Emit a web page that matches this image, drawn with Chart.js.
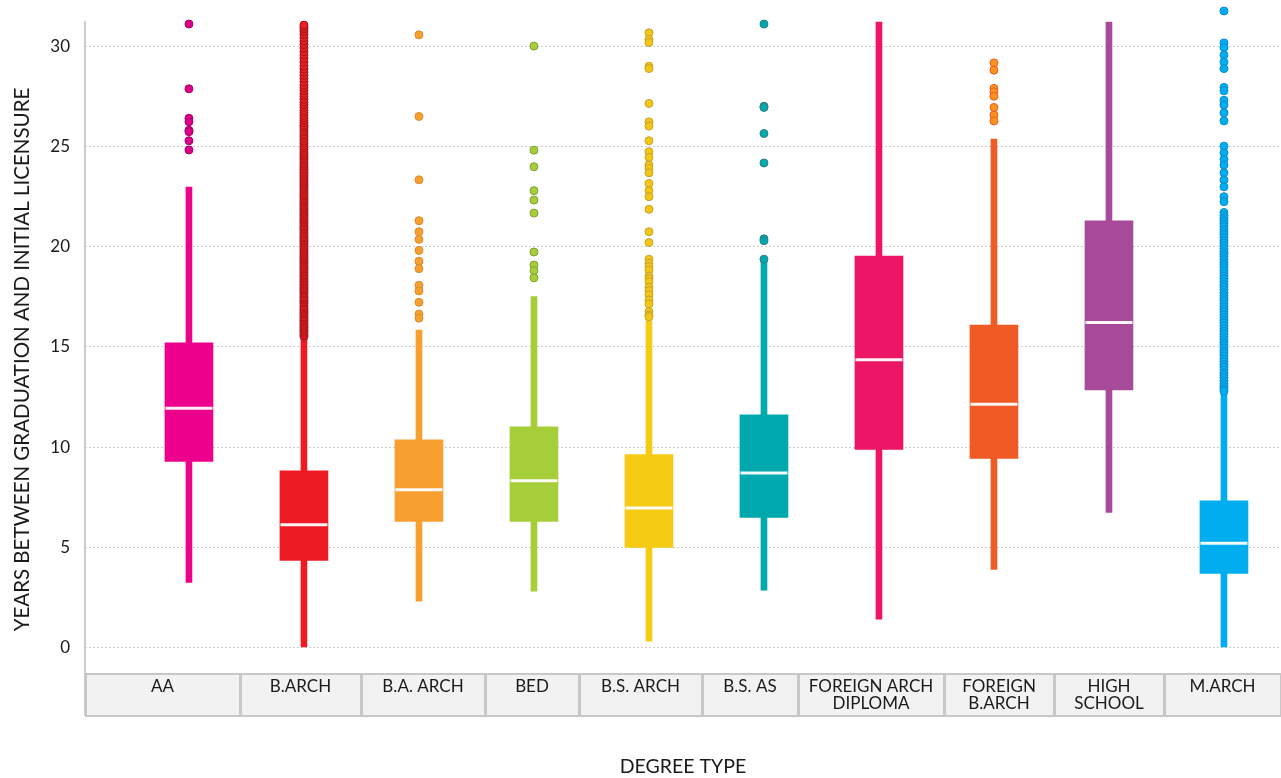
<!DOCTYPE html>
<html>
<head>
<meta charset="utf-8">
<script src="https://cdn.jsdelivr.net/npm/chart.js@4.4.1/dist/chart.umd.min.js"></script>
<style>
html,body{margin:0;padding:0;background:#fff;overflow:hidden;}
canvas{display:block;}
</style>
</head>
<body>
<canvas id="c" width="1281" height="778"></canvas>
<script>
// ---------------- DATA ----------------
const categories = ['AA', 'B.ARCH', 'B.A. ARCH', 'BED', 'B.S. ARCH', 'B.S. AS',
  ['FOREIGN ARCH', 'DIPLOMA'], ['FOREIGN', 'B.ARCH'], ['HIGH', 'SCHOOL'], 'M.ARCH'];

const whiskerLow  = [3.25, 0.0, 2.31, 2.81, 0.32, 2.86, 1.41, 3.9, 6.74, 0.0];
const q1          = [9.28, 4.35, 6.29, 6.29, 5.0, 6.49, 9.88, 9.43, 12.85, 3.7];
const median      = [11.94, 6.13, 7.87, 8.32, 6.96, 8.7, 14.35, 12.14, 16.21, 5.2];
const q3          = [15.2, 8.82, 10.36, 11.01, 9.62, 11.61, 19.53, 16.09, 21.28, 7.32];
const whiskerHigh = [22.97, 15.45, 15.84, 17.5, 16.3, 19.37, 31.2, 25.36, 31.2, 12.77];

const outliersAA = [31.1, 27.87, 26.4, 26.23, 25.8, 25.73, 25.28, 24.82];
const outliersBArch = [15.52, 15.6, 15.71, 15.8, 15.88, 15.97, 16.05, 16.14, 16.25, 16.33, 16.42, 16.5,
  16.61, 16.7, 16.78, 16.87, 16.96, 17.05, 17.17, 17.25, 17.33, 17.42, 17.5, 17.62, 17.71, 17.8, 17.88,
  17.96, 18.06, 18.15, 18.25, 18.33, 18.42, 18.52, 18.6, 18.7, 18.79, 18.88, 18.96, 19.05, 19.15, 19.24,
  19.33, 19.41, 19.5, 19.6, 19.7, 19.79, 19.88, 19.97, 20.06, 20.15, 20.25, 20.33, 20.42, 20.5, 20.6,
  20.7, 20.8, 20.88, 20.96, 21.05, 21.16, 21.25, 21.33, 21.42, 21.52, 21.6, 21.7, 21.8, 21.88, 21.97,
  22.06, 22.16, 22.25, 22.33, 22.43, 22.52, 22.6, 22.7, 22.8, 22.9, 23.0, 23.08, 23.17, 23.26, 23.35,
  23.45, 23.55, 23.65, 23.74, 23.84, 23.93, 24.02, 24.12, 24.22, 24.33, 24.42, 24.52, 24.62, 24.72,
  24.83, 24.93, 25.03, 25.15, 25.27, 25.38, 25.5, 25.6, 25.72, 25.83, 25.95, 26.05, 26.18, 26.3, 26.42,
  26.55, 26.68, 26.8, 26.95, 27.08, 27.2, 27.35, 27.5, 27.62, 27.78, 27.92, 28.05, 28.22, 28.38, 28.55,
  28.7, 28.85, 29.0, 29.2, 29.38, 29.55, 29.72, 29.9, 30.08, 30.25, 30.42, 30.58, 30.72, 30.85, 30.95, 31.05];
const outliersBAArch = [30.56, 26.49, 23.33, 21.29, 20.74, 20.36, 19.81, 19.27, 18.9, 18.07, 17.79, 17.22, 16.63, 16.43];
const outliersBed = [30.0, 24.81, 23.98, 22.79, 22.32, 21.67, 19.73, 19.08, 18.8, 18.44];
const outliersBSArch = [30.66, 30.33, 30.18, 29.0, 28.88, 27.14, 26.22, 26.01, 25.28, 24.73, 24.45, 24.07,
  23.9, 23.68, 23.15, 22.79, 22.49, 21.86, 20.74, 20.2, 19.37, 19.17, 19.0, 18.83, 18.53, 18.4, 18.25,
  17.97, 17.8, 17.6, 17.34, 17.14, 16.76, 16.59, 16.5];
const outliersBSAs = [31.1, 27.0, 26.94, 25.64, 24.17, 20.39, 20.29, 19.37];
const outliersForeignDiploma = [];
const outliersForeignBArch = [29.16, 28.8, 27.89, 27.72, 27.5, 26.94, 26.56, 26.27];
const outliersHighSchool = [];
const outliersMArch = [31.75, 30.16, 29.93, 29.55, 29.21, 28.88, 27.94, 27.77, 27.3, 27.06, 26.67, 26.27,
  25.01, 24.68, 24.35, 24.07, 23.68, 23.32, 22.98, 22.49, 22.24, 21.7, 21.55, 21.4, 21.28, 21.15, 21.0,
  20.85, 20.72, 20.6, 20.45, 20.3, 20.18, 20.05, 19.9, 19.75, 19.62, 19.5, 19.35, 19.2, 19.08, 18.95,
  18.8, 18.66, 18.52, 18.4, 18.25, 18.1, 17.98, 17.85, 17.7, 17.56, 17.42, 17.3, 17.15, 17.0, 16.88,
  16.75, 16.6, 16.46, 16.33, 16.2, 16.05, 15.9, 15.78, 15.65, 15.5, 15.36, 15.22, 15.1, 14.95, 14.8,
  14.68, 14.55, 14.4, 14.26, 14.12, 14.0, 13.85, 13.7, 13.58, 13.45, 13.3, 13.16, 13.02, 12.9, 12.8];

const outliers = [outliersAA, outliersBArch, outliersBAArch, outliersBed, outliersBSArch, outliersBSAs,
  outliersForeignDiploma, outliersForeignBArch, outliersHighSchool, outliersMArch];

const yTicks = [0, 5, 10, 15, 20, 25, 30];
const yTitle = 'YEARS BETWEEN GRADUATION AND INITIAL LICENSURE';
const xTitle = 'DEGREE TYPE';

// ---------------- STYLES ----------------
const boxColors = ['#EC008C', '#ED1C24', '#F7A030', '#A6CE39', '#F5CB14', '#00A9AD', '#ED1566', '#F05A24', '#A84A9A', '#00AEEF'];
const pointFill = ['#DC0088', '#ED1C24', '#F7A030', '#A6CE39', '#F3C614', '#00A9AD', '#ED1566', '#F7941D', '#A84A9A', '#00AEEF'];
const pointBorder = ['#A8006A', '#A3161B', '#D68A30', '#7EA032', '#C4A22E', '#2E7F87', '#B01050', '#F05A24', '#7D3573', '#0A8CCF'];
const tableColWidths = [155, 121, 124, 94, 123, 96, 146, 110, 110, 117]; // layout of label table
const axisLineTop = 31.25;   // where the left axis line starts (axis units)
const FONT = 'Lato, "Open Sans", sans-serif';
const TEXT = '#1a1a1a';

// ---------------- DATASETS ----------------
const idx = categories.map((_, i) => i);
const datasets = [];
datasets.push({
  type: 'bar', label: 'whiskers', order: 4, grouped: false, barThickness: 6,
  data: idx.map(i => ({x: i, y: [whiskerLow[i], whiskerHigh[i]]})),
  backgroundColor: boxColors, borderWidth: 0
});
datasets.push({
  type: 'bar', label: 'boxes', order: 3, grouped: false, barThickness: 48,
  data: idx.map(i => ({x: i, y: [q1[i], q3[i]]})),
  backgroundColor: boxColors, borderWidth: 0
});
datasets.push({
  type: 'scatter', label: 'median', order: 2,
  data: idx.map(i => ({x: i, y: median[i]})),
  pointStyle: 'line', pointRadius: 23.5, pointBorderWidth: 3,
  pointBorderColor: 'rgba(255,255,255,0.95)', pointBackgroundColor: '#fff'
});
idx.forEach(i => {
  datasets.push({
    type: 'scatter', label: 'outliers ' + i, order: 1, clip: false,
    data: outliers[i].map(v => ({x: i, y: v})),
    pointRadius: 4, pointBorderWidth: 1,
    pointBackgroundColor: pointFill[i], pointBorderColor: pointBorder[i]
  });
});

// ---------------- TABLE / AXIS PLUGIN ----------------
const tablePlugin = {
  id: 'labelTable',
  beforeDatasetsDraw(chart) {
    const {ctx, chartArea, scales} = chart;
    const top = Math.round(chartArea.bottom) + 1, h = 42;
    ctx.save();
    ctx.strokeStyle = '#cccccc';
    ctx.lineWidth = 2;
    ctx.beginPath();
    ctx.moveTo(chartArea.left, scales.y.getPixelForValue(axisLineTop));
    ctx.lineTo(chartArea.left, top + h);
    ctx.stroke();
    ctx.restore();
  },
  afterDraw(chart) {
    const {ctx, chartArea, scales} = chart;
    const left = chartArea.left, right = chartArea.right;
    const top = Math.round(chartArea.bottom) + 1, h = 42;
    const total = tableColWidths.reduce((a, b) => a + b, 0);
    const k = (right - left) / total;
    ctx.save();
    ctx.fillStyle = '#f2f2f2';
    ctx.fillRect(left, top, right - left, h);
    ctx.strokeStyle = '#c8c8c8';
    ctx.lineWidth = 2;
    let x = left;
    ctx.font = '17px ' + FONT;
    ctx.textAlign = 'center';
    ctx.textBaseline = 'middle';
    categories.forEach((c, i) => {
      const w = tableColWidths[i] * k;
      ctx.strokeRect(x + 1, top, w - 1, h);
      ctx.fillStyle = TEXT;
      const lines = Array.isArray(c) ? c : [c];
      lines.forEach((ln, j) => ctx.fillText(ln, x + w / 2, top + 13 + j * 16.5));
      x += w;
    });
    // y-axis title
    const yTop = scales.y.getPixelForValue(axisLineTop);
    const yMid = (yTop + top + h) / 2 - 9;
    ctx.translate(22, yMid);
    ctx.rotate(-Math.PI / 2);
    ctx.font = '20.5px ' + FONT;
    ctx.fillStyle = TEXT;
    ctx.fillText(yTitle, 0, 0);
    ctx.restore();
  }
};

new Chart(document.getElementById('c'), {
  type: 'bar',
  data: {datasets},
  plugins: [tablePlugin],
  options: {
    responsive: false,
    devicePixelRatio: 1,
    animation: false,
    events: [],
    layout: {autoPadding: false, padding: {top: 6, left: 0, right: 0, bottom: 0}},
    plugins: {legend: {display: false}, tooltip: {enabled: false}},
    scales: {
      x: {
        type: 'linear', min: -0.904, max: 9.496, offset: false,
        grid: {display: false, drawTicks: false, offset: false},
        border: {display: false},
        ticks: {display: false},
        title: {display: true, text: xTitle, color: TEXT, font: {family: FONT, size: 19.5},
                padding: {top: 82, bottom: 0}}
      },
      y: {
        type: 'linear', min: -1.25, max: 32,
        afterBuildTicks: s => { s.ticks = yTicks.map(v => ({value: v})); },
        afterFit: s => { s.width = 85; s.paddingTop = 0; s.paddingBottom = 0; },
        grid: {color: '#cccccc', lineWidth: 1, drawTicks: false},
        border: {display: false, dash: [2, 2]},
        ticks: {color: TEXT, padding: 15, font: {family: FONT, size: 17}},
        title: {display: false}
      }
    }
  }
});
</script>
</body>
</html>
